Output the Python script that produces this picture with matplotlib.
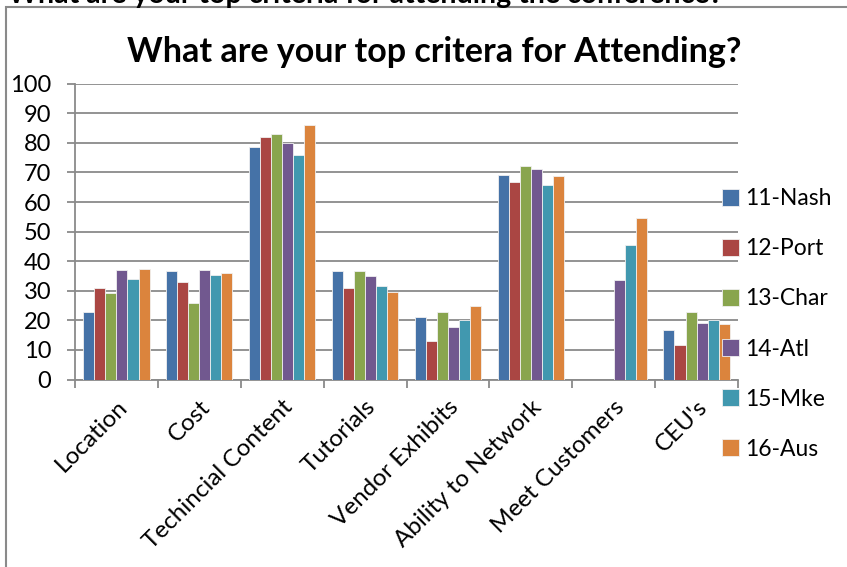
import matplotlib.pyplot as plt
import numpy as np
from matplotlib.patches import Rectangle

categories = ["Location", "Cost", "Techincial Content", "Tutorials", "Vendor Exhibits",
              "Ability to Network", "Meet Customers", "CEU's"]
series_names = ["11-Nash", "12-Port", "13-Char", "14-Atl", "15-Mke", "16-Aus"]
nash = [22.9, 36.7, 78.5, 36.7, 21.2, 69.1, 0, 16.7]
port = [30.8, 33.1, 82.1, 30.8, 13.0, 66.6, 0, 11.6]
char = [29.1, 26.0, 83.1, 36.7, 22.9, 72.2, 0, 22.9]
atl = [37.0, 37.0, 79.8, 35.1, 17.8, 71.3, 33.8, 19.0]
mke = [34.0, 35.3, 75.9, 31.6, 20.1, 65.7, 45.4, 20.0]
aus = [37.3, 35.9, 86.0, 29.5, 24.8, 68.7, 54.6, 18.6]
colors = ["#4572A7", "#AA4643", "#89A54E", "#71588F", "#4198AF", "#DB843D"]

plt.rcParams['font.family'] = ['Lato', 'DejaVu Sans']

W, H = 847, 567
fig = plt.figure(figsize=(W / 100, H / 100), dpi=100)
ax = fig.add_axes([75 / W, 1 - 379.5 / H, (738 - 75) / W, (379.5 - 83.7) / H])

# outer chart frame (cut off on the right and bottom)
fig.patches.append(Rectangle((6 / W, -0.1), 1.2, 1 - 7 / H + 0.1, transform=fig.transFigure,
                             fill=False, edgecolor="#8a8a8a", linewidth=1.5))
# heading of the page, only its lower half is in the picture
fig.text(8 / W, 1 - 3 / H, "What are your top criteria for attending the conference?",
         fontsize=20.5, fontweight="bold", ha="left", va="baseline")

x = np.arange(len(categories))
bw = 1 / 7.5
allSeries = [nash, port, char, atl, mke, aus]
handles = []
for i, vals in enumerate(allSeries):
    b = ax.bar(x + (i - 2.5) * bw, vals, bw, color=colors[i], edgecolor="#f0f0f0",
               linewidth=0.6, zorder=3, label=series_names[i])
    handles.append(b)

ax.set_xlim(-0.5, len(categories) - 0.5)
ax.set_ylim(0, 100)
ax.set_yticks(np.arange(0, 101, 10))
ax.yaxis.grid(True, color="#8a8a8a", linewidth=1.3)
ax.set_axisbelow(True)
for s in ["top", "right"]:
    ax.spines[s].set_visible(False)
for s in ["left", "bottom"]:
    ax.spines[s].set_color("#8a8a8a")
    ax.spines[s].set_linewidth(1.3)

ax.set_xticks(x)
ax.set_xticklabels(categories, rotation=45, ha="right", rotation_mode="anchor")
ax.set_xticks(np.arange(-0.5, len(categories)), minor=True)
ax.tick_params(axis="x", which="major", length=0, labelsize=17.5, pad=12)
ax.tick_params(axis="x", which="minor", length=6, width=1.3, color="#8a8a8a")
ax.tick_params(axis="y", length=6, width=1.3, color="#8a8a8a", labelsize=17, pad=11)

fig.suptitle("What are your top critera for Attending?", x=434 / W, y=1 - 52 / H,
             va="center", fontsize=24.5, fontweight="bold")

fig.legend(handles=handles, loc="center left", bbox_to_anchor=(713 / W, 1 - 324 / H),
           frameon=False, fontsize=16.5, handlelength=0.75, handleheight=0.75,
           handletextpad=0.25, labelspacing=1.27, borderaxespad=0)

fig.savefig("out.png", dpi=100)
